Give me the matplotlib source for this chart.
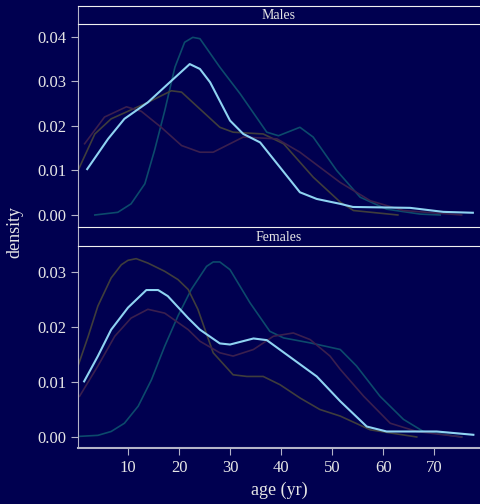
import matplotlib
matplotlib.use("Agg")
import matplotlib.pyplot as plt

plt.rcParams['font.family'] = ['Liberation Serif', 'DejaVu Serif']

panels = ["Males", "Females"]

# upper panel (Males)
m_blue_x = [2.0, 6.1, 9.3, 13.9, 17.8, 22.1, 24.1, 26.1, 30.0, 32.6, 35.9, 39.8, 43.7, 47.0, 51.6, 54.1, 65.3, 71.8, 77.6]
m_blue_y = [0.0103, 0.0171, 0.0216, 0.0253, 0.0294, 0.0339, 0.0328, 0.0298, 0.0212, 0.0182, 0.0163, 0.0107, 0.0051, 0.0036, 0.0025, 0.0018, 0.0016, 0.0007, 0.0005]
m_teal_x = [3.5, 8.0, 10.6, 13.3, 15.2, 17.2, 19.2, 21.1, 22.7, 24.1, 28.0, 32.0, 37.2, 39.5, 43.7, 46.3, 50.9, 55.5, 60.7, 67.3, 71.2]
m_teal_y = [0.0, 0.0006, 0.0025, 0.007, 0.0145, 0.0234, 0.0332, 0.0388, 0.0399, 0.0396, 0.0332, 0.0272, 0.0186, 0.0178, 0.0197, 0.0175, 0.0100, 0.004, 0.0013, 0.0002, 0.0]
m_olive_x = [0.2, 3.5, 6.7, 10.0, 13.9, 18.5, 20.5, 24.1, 28.0, 30.6, 36.5, 40.5, 46.3, 51.6, 54.2, 62.9]
m_olive_y = [0.01, 0.0182, 0.0216, 0.0233, 0.0253, 0.0279, 0.0276, 0.0238, 0.0197, 0.0186, 0.0182, 0.016, 0.0085, 0.0029, 0.001, 0.0]
m_purple_x = [1.5, 5.4, 9.7, 12.6, 16.5, 20.5, 24.1, 26.7, 32.6, 39.2, 43.7, 51.6, 57.5, 64.0, 75.4]
m_purple_y = [0.016, 0.022, 0.0243, 0.0233, 0.0197, 0.0156, 0.0141, 0.0141, 0.0175, 0.0171, 0.0141, 0.0073, 0.0032, 0.001, 0.0]

# lower panel (Females)
f_blue_x = [1.4, 4.1, 6.7, 10.0, 13.6, 15.9, 17.8, 21.8, 24.1, 28.0, 30.0, 34.6, 37.2, 42.4, 47.0, 51.6, 56.8, 60.7, 70.5, 77.7]
f_blue_y = [0.0101, 0.0147, 0.0195, 0.0235, 0.0267, 0.0267, 0.0256, 0.0216, 0.0195, 0.017, 0.0168, 0.0179, 0.0176, 0.0141, 0.011, 0.0065, 0.0019, 0.001, 0.001, 0.0004]
f_teal_x = [0.2, 4.1, 6.7, 9.3, 12.0, 14.6, 17.2, 19.8, 22.4, 25.4, 26.7, 28.0, 30.0, 33.9, 37.8, 40.5, 45.7, 51.6, 54.8, 59.4, 64.0, 67.9, 75.4]
f_teal_y = [0.0001, 0.0003, 0.001, 0.0025, 0.0056, 0.0104, 0.0165, 0.022, 0.0268, 0.031, 0.0318, 0.0318, 0.0304, 0.0244, 0.0192, 0.018, 0.0171, 0.0159, 0.0129, 0.0074, 0.0032, 0.001, 0.0]
f_olive_x = [0.2, 2.2, 4.1, 6.7, 8.7, 10.0, 11.6, 13.9, 17.2, 19.8, 21.8, 23.7, 26.7, 30.6, 33.3, 36.5, 39.8, 43.7, 47.6, 51.6, 57.5, 66.6]
f_olive_y = [0.0129, 0.0183, 0.0238, 0.0289, 0.0313, 0.0321, 0.0324, 0.0316, 0.0301, 0.0286, 0.0268, 0.0232, 0.0153, 0.0113, 0.011, 0.011, 0.0095, 0.0071, 0.005, 0.0038, 0.0013, 0.0]
f_purple_x = [0.5, 4.1, 7.4, 10.6, 13.9, 17.2, 21.8, 24.1, 28.0, 30.6, 34.6, 38.5, 42.4, 45.7, 49.6, 51.6, 56.2, 61.4, 66.6, 75.4]
f_purple_y = [0.0074, 0.0129, 0.0183, 0.0216, 0.0232, 0.0225, 0.0195, 0.0174, 0.0153, 0.0147, 0.0159, 0.0183, 0.0189, 0.0177, 0.0147, 0.0123, 0.0074, 0.0025, 0.001, 0.0]

bg = '#000050'
fg = '#e6e6e6'
spine_c = '#b4b4c8'

fig = plt.figure(figsize=(4.8, 5.04), dpi=100, facecolor=bg)

# axes rectangles in pixels: top y, bottom y of data area, top of strip
W, H = 480.0, 504.0
left = 78 / W
boxes = [(24, 227, 6), (246, 448, 227)]
ylims = [(-0.0027, 0.0429), (-0.002, 0.0347)]
yticks = [[0.0, 0.01, 0.02, 0.03, 0.04], [0.0, 0.01, 0.02, 0.03]]
series = [
    [(m_teal_x, m_teal_y), (m_olive_x, m_olive_y), (m_purple_x, m_purple_y), (m_blue_x, m_blue_y)],
    [(f_teal_x, f_teal_y), (f_olive_x, f_olive_y), (f_purple_x, f_purple_y), (f_blue_x, f_blue_y)],
]
colors = ['#0c4a6c', '#3f3d3c', '#3a1f4e', '#8fd3f2']
widths = [1.2, 1.2, 1.2, 1.5]

for i, name in enumerate(panels):
    top, bot, strip_top = boxes[i]
    ax = fig.add_axes([left, 1 - bot / H, 1 - left, (bot - top) / H])
    ax.set_facecolor(bg)
    for (xs, ys), c, lw in zip(series[i], colors, widths):
        ax.plot(xs, ys, color=c, lw=lw)
    ax.set_xlim(0.2, 79)
    ax.set_ylim(*ylims[i])
    ax.set_yticks(yticks[i])
    ax.set_yticklabels(['%.2f' % v for v in yticks[i]])
    for s in ['top', 'right']:
        ax.spines[s].set_visible(False)
    ax.spines['left'].set_color(spine_c)
    ax.spines['bottom'].set_color(spine_c)
    ax.tick_params(colors=spine_c, labelcolor=fg, labelsize=12, length=5)
    if i == 0:
        ax.spines['bottom'].set_visible(False)
        ax.set_xticks([])
    else:
        ax.set_xticks([10, 20, 30, 40, 50, 60, 70])
        ax.spines['bottom'].set_linewidth(1.5)
        ax.set_xlabel('age (yr)', color=fg, fontsize=13)

    # strip with the panel name
    sx = fig.add_axes([left, 1 - top / H, 1 - left, (top - strip_top) / H])
    sx.set_facecolor(bg)
    sx.set_xticks([])
    sx.set_yticks([])
    sx.spines['right'].set_visible(False)
    sx.spines['top'].set_color('#f0f0f0')
    sx.spines['bottom'].set_color('#f0f0f0')
    sx.spines['left'].set_color(spine_c)
    sx.text(0.5, 0.45, name, transform=sx.transAxes, ha='center', va='center',
            color=fg, fontsize=10)

fig.text(15 / W, 1 - 232 / H, 'density', rotation=90, ha='center', va='center',
         color=fg, fontsize=13)

fig.savefig('out.png', dpi=100, facecolor=bg)
